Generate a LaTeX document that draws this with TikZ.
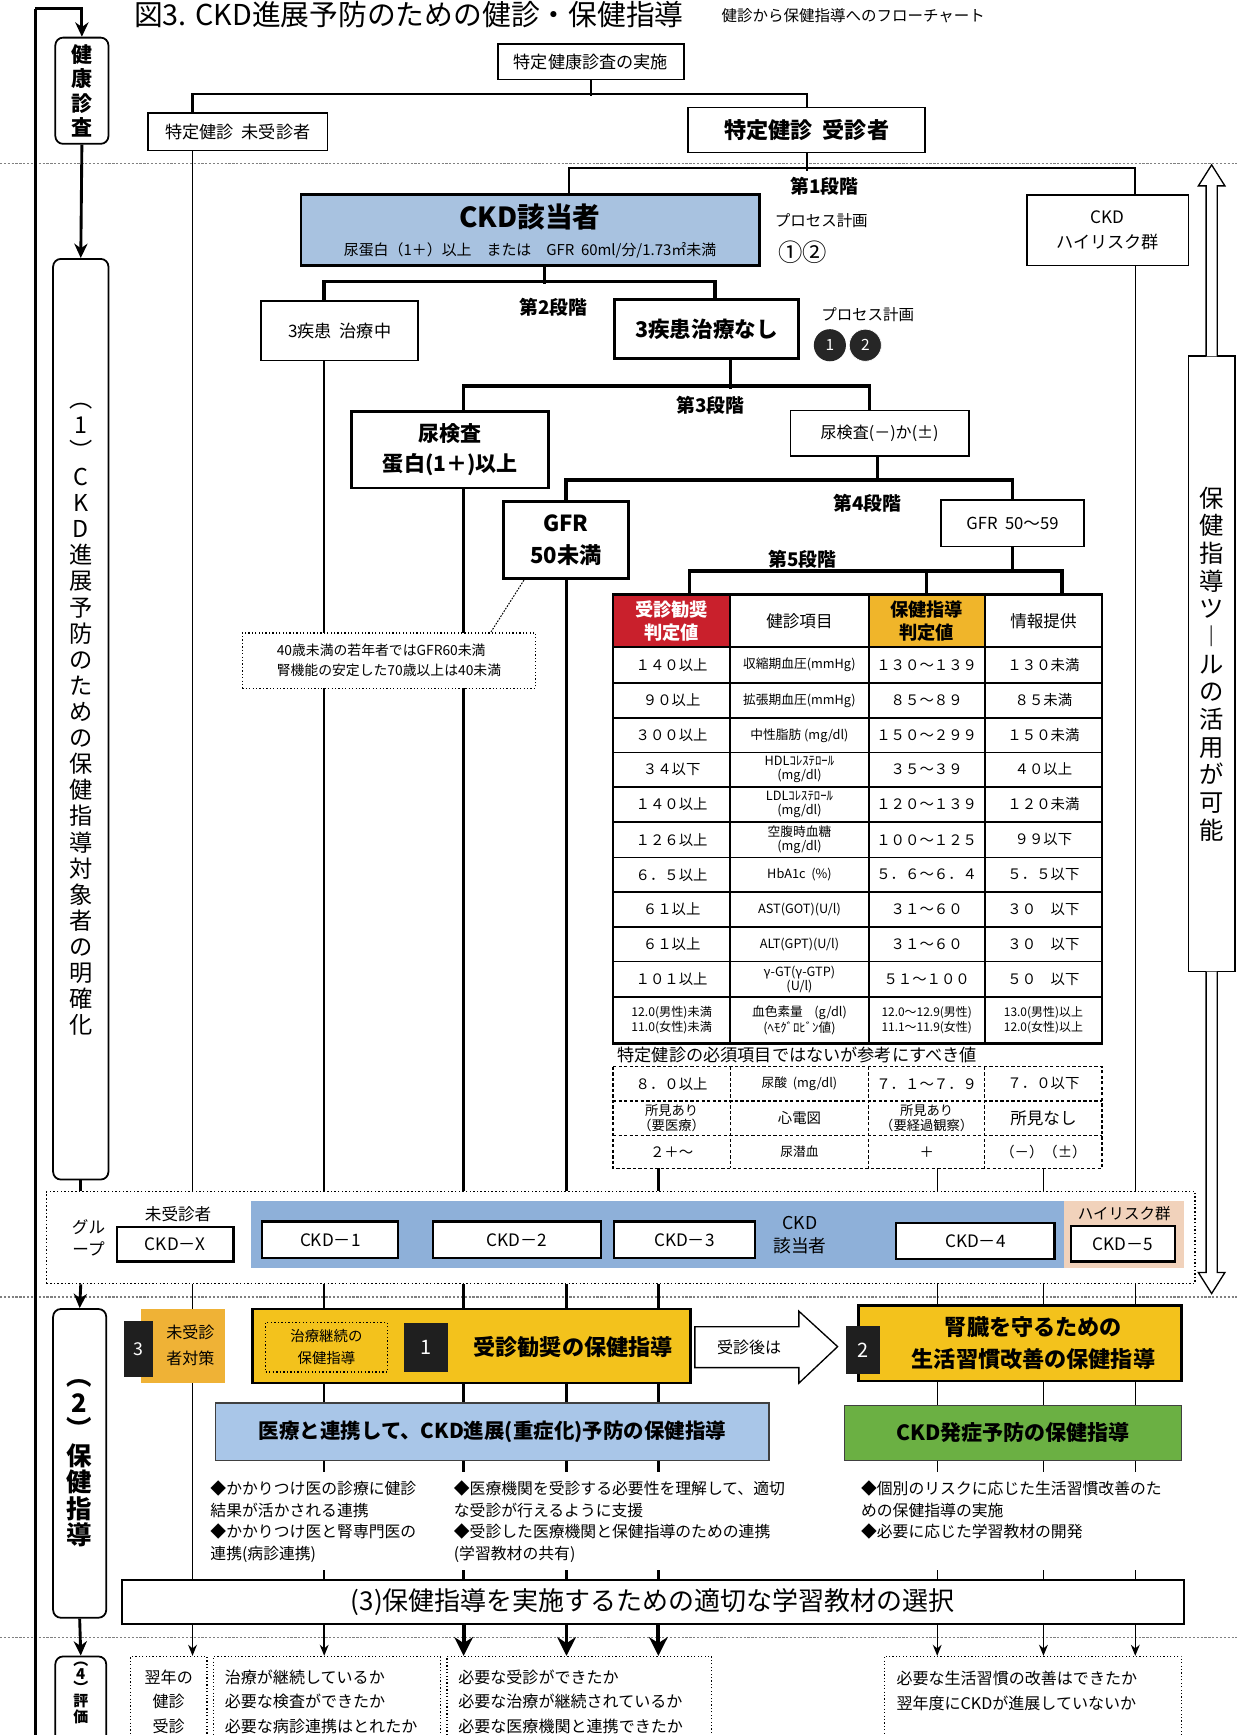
\documentclass[tikz,border=0pt]{standalone}
\usepackage{fontspec}
\setmainfont{Noto Sans CJK JP}
\usetikzlibrary{arrows.meta}
\newcommand\fz[2]{\fontsize{#1pt}{#2pt}\selectfont}
\definecolor{ckdblue}{HTML}{A8C2E0}
\definecolor{grpblue}{HTML}{8EB0D9}
\definecolor{lblue}{HTML}{A9C6E8}
\definecolor{jred}{HTML}{C9202C}
\definecolor{jyel}{HTML}{F0B52A}
\definecolor{byel}{HTML}{F3C21C}
\definecolor{oyel}{HTML}{EFB236}
\definecolor{jgreen}{HTML}{6BB043}
\definecolor{peach}{HTML}{F1D2BB}
\definecolor{sepgray}{HTML}{808080}
% table row: name, top, bottom, four cell texts
\newcommand\trow[7]{%
  \node[lab, font=\fz{13}{14}] (#1a) at (607,{(#2+#3)/2}) {#4};
  \node[lab, font=\fz{11.5}{12.5}] (#1b) at (722.5,{(#2+#3)/2}) {#5};
  \node[lab, font=\fz{13}{14}] (#1c) at (837.5,{(#2+#3)/2}) {#6};
  \node[lab, font=\fz{13}{14}] (#1d) at (943,{(#2+#3)/2}) {#7};
}
\begin{document}
\begin{tikzpicture}[x=1pt,y=-1pt,
  lab/.style={inner sep=0pt, align=center},
  bx/.style={draw, line width=1.4pt, fill=white, inner sep=0pt, align=center},
  tbx/.style={bx, line width=2.6pt},
  ckdbx/.style={bx, line width=2pt, font=\fz{15.5}{16}},
  wh/.style 2 args={minimum width=#1pt, minimum height=#2pt},
  ln/.style={line width=1.3pt},
  mln/.style={line width=1.9pt},
  tln/.style={line width=3.2pt},
  sepl/.style={sepgray, line width=1.2pt, dash pattern=on 2pt off 1.5pt},
  dotbx/.style={draw, line width=1.1pt, dotted, fill=white, inner sep=0pt},
  vbox/.style={draw, line width=1.6pt, rounded corners=7pt, fill=white, inner sep=0pt, align=center},
  larrow/.style={line width=2.6pt, -{Stealth[length=13pt,width=12pt]}},
  tarrow/.style={line width=1.3pt, -{Stealth[length=10pt,width=8pt]}},
  barrow/.style={line width=3.4pt, -{Stealth[length=17pt,width=17pt]}},
  harrow/.style={line width=1.2pt, fill=white},
  blk/.style={fill=black!88, text=white, inner sep=0pt},
  hcell/.style={draw, line width=2pt, inner sep=0pt, align=center},
  stage/.style={inner sep=0pt, font=\fz{17}{17}\bfseries},
  txtblk/.style={inner sep=0pt, align=left, anchor=north west, font=\fz{14.3}{19.5}},
]
\useasboundingbox (0,0) rectangle (1118,1568);
\clip (0,0) rectangle (1118,1568);
\fill[white] (0,0) rectangle (1118,1568);

% x positions of the long verticals
\coordinate (xa) at (174,0);
\coordinate (xb) at (293,0);
\coordinate (xc) at (419,0);
\coordinate (xd) at (512,0);
\coordinate (xe) at (595,0);
\coordinate (xf) at (847,0);
\coordinate (xg) at (943,0);
\coordinate (xh) at (1026,0);
\coordinate (xk) at (514,0);
\coordinate (xs2) at (492,0);
\coordinate (xs2r) at (646,0);
\coordinate (xs3) at (660,0);
\coordinate (xs3r) at (786,0);
\coordinate (xs4) at (793,0);
\coordinate (x5a) at (623,0);
\coordinate (x5d) at (960,0);
\coordinate (dtb) at (0,1056);
\coordinate (ltop) at (32,8);
\coordinate (lbot) at (32,1600);

% title
\node[lab, anchor=west, font=\fz{26}{27}] (title) at (121,13) {図3. CKD進展予防のための健診・保健指導};
\node[lab, anchor=west, font=\fz{14}{14}] (subtitle) at (652,14) {健診から保健指導へのフローチャート};

% separators
\draw[sepl] (0,148) -- (1118,148);
\draw[sepl] (0,1172) -- (1118,1172);
\draw[sepl] (0,1480) -- (1118,1480);

% ---------- group box (area) ----------
\node[fill=grpblue, wh={735}{61}, inner sep=0pt] (grpb) at (594.5,1115.5) {};
\node[fill=peach, wh={108}{61}, inner sep=0pt] (grpp) at (1016,1115.5) {};
\node[draw, dotted, line width=1.3pt, wh={1038}{83}, inner sep=0pt] (grp) at (561,1118.5) {};

% ---------- top section ----------
\node[bx, wh={168}{32}, font=\fz{15.5}{18}] (jisshi) at (534,56) {特定健康診査の実施};
\node[bx, wh={162}{34}, font=\fz{15.5}{18}] (mij) at (215,119) {特定健診\ \ 未受診者};
\node[bx, wh={214}{41}, font=\fz{20}{22}\bfseries] (jus) at (729,117.5) {特定健診\ \ 受診者};
\draw[mln] (jisshi.south) -- ++(0,14);
\draw[mln] (mij.north -| xa) -- ++(0,-16) -| (jus.north);

% stage 1
\node[tbx, fill=ckdblue, wh={414}{64}] (ckd) at (479,208) {};
\node[lab, font=\fz{25}{25}\bfseries] (ckdt1) at (479,196) {CKD該当者};
\node[lab, font=\fz{13.5}{14}] (ckdt2) at (479,226) {尿蛋白（1＋）以上　または　GFR\ \ 60ml/分/1.73㎡未満};
\node[bx, wh={146}{64}, font=\fz{15.5}{22}] (hr) at (1001,208) {CKD\\ハイリスク群};
\draw[mln] (jus.south) -- ++(0,15.5);
\draw[mln] (ckd.north -| xk) -- ++(0,-23) -| (hr.north -| xh);
\node[stage] (st1) at (745,168) {第1段階};
\node[lab, anchor=west, font=\fz{14}{14}] (pk1) at (700,199) {プロセス計画};
\node[lab, anchor=west, font=\fz{22}{22}] (pk1n) at (703,228) {①②};

% stage 2
\node[bx, wh={142}{54}, font=\fz{15.5}{18}] (chu) at (307,299) {3疾患\ \ 治療中};
\node[tbx, wh={167}{53}, font=\fz{19.5}{20}\bfseries] (nashi) at (638.5,297.5) {3疾患治療なし};
\draw[tln] (ckd.south -| xs2) -- ++(0,15);
\draw[tln] (chu.north -| xb) -- ++(0,-17) -| (nashi.north -| xs2r);
\node[stage] (st2) at (500,278) {第2段階};
\node[lab, anchor=west, font=\fz{14}{14}] (pk2) at (742,284) {プロセス計画};
\node[circle, fill=black!85, minimum size=29pt, inner sep=0pt, text=white, font=\fz{14}{14}] (c1) at (750,312) {1};
\node[circle, fill=black!85, draw=white, line width=0.6pt, minimum size=29pt, inner sep=0pt, text=white, font=\fz{14}{14}] (c2) at (782,312) {2};

% stage 3
\node[tbx, wh={178}{69}, font=\fz{19}{27}\bfseries] (nyo) at (407,406.5) {尿検査\\蛋白(1＋)以上};
\node[bx, wh={161}{41}, font=\fz{14.5}{16}] (nyom) at (795,391.5) {尿検査(－)か(±)};
\draw[tln] (nashi.south -| xs3) -- ++(0,26);
\draw[tln] (nyo.north -| xc) -- ++(0,-22) -| (nyom.north -| xs3r);
\node[stage] (st3) at (642,366) {第3段階};

% stage 4
\node[tbx, wh={113}{70}, font=\fz{20}{29}\bfseries] (gfr) at (511.5,488) {GFR\\50未満};
\node[bx, wh={129}{42}, font=\fz{15}{16}] (gfr2) at (915,473) {GFR\ \ 50～59};
\draw[tln] (nyom.south -| xs4) -- ++(0,23);
\draw[tln] (gfr.north) -- ++(0,-18) -| (gfr2.north);
\node[stage] (st4) at (784,455) {第4段階};

% stage 5 : table
\node[hcell, fill=jred, text=white, wh={106}{48}, font=\fz{16.5}{21}\bfseries] (h1) at (607,561) {受診勧奨\\判定値};
\node[hcell, fill=white, wh={125}{48}, font=\fz{15}{15}] (h2) at (722.5,561) {健診項目};
\node[hcell, fill=jyel, wh={105}{48}, font=\fz{16.5}{21}\bfseries] (h3) at (837.5,561) {保健指導\\判定値};
\node[hcell, fill=white, wh={106}{48}, font=\fz{15}{15}] (h4) at (943,561) {情報提供};
\draw[tln] (gfr2.south) -- ++(0,23);
\draw[tln] (h1.north -| x5a) -- ++(0,-20) -| (h4.north -| x5d);
\draw[tln] (h3.north) -- ++(0,-20);
\node[stage] (st5) at (725,505) {第5段階};

\foreach \yy in {617,649,680,711,743,775,806,838,869,901}{
  \draw[line width=1.6pt] (554,\yy) -- (996,\yy);
}
\foreach \xx in {660,785,890}{
  \draw[line width=2pt] (\xx,585) -- (\xx,943);
}
\draw[line width=2.4pt] (554,537) rectangle (996,943);

\trow{r1}{585}{617}{１４０以上}{収縮期血圧(mmHg)}{１３０～１３９}{１３０未満}
\trow{r2}{617}{649}{９０以上}{拡張期血圧(mmHg)}{８５～８９}{８５未満}
\trow{r3}{649}{680}{３００以上}{中性脂肪\ (mg/dl)}{１５０～２９９}{１５０未満}
\trow{r4}{680}{711}{３４以下}{HDLｺﾚｽﾃﾛｰﾙ\\(mg/dl)}{３５～３９}{４０以上}
\trow{r5}{711}{743}{１４０以上}{LDLｺﾚｽﾃﾛｰﾙ\\(mg/dl)}{１２０～１３９}{１２０未満}
\trow{r6}{743}{775}{１２６以上}{空腹時血糖\\(mg/dl)}{１００～１２５}{９９以下}
\trow{r7}{775}{806}{６．５以上}{HbA1c\ \ (\%)}{５．６～６．４}{５．５以下}
\trow{r8}{806}{838}{６１以上}{AST(GOT)(U/l)}{３１～６０}{３０　以下}
\trow{r9}{838}{869}{６１以上}{ALT(GPT)(U/l)}{３１～６０}{３０　以下}
\trow{r10}{869}{901}{１０１以上}{γ-GT(γ-GTP)\\(U/l)}{５１～１００}{５０　以下}
\node[lab, font=\fz{11}{14}] (r11a) at (607,922) {12.0(男性)未満\\11.0(女性)未満};
\node[lab, font=\fz{11.5}{14}] (r11b) at (722.5,922) {血色素量\ \ \ \ (g/dl)\\(ﾍﾓｸﾞﾛﾋﾞﾝ値)};
\node[lab, font=\fz{10.8}{14}] (r11c) at (837.5,922) {12.0～12.9(男性)\\11.1～11.9(女性)};
\node[lab, font=\fz{10.8}{14}] (r11d) at (943,922) {13.0(男性)以上\\12.0(女性)以上};

% reference values (dashed table)
\node[lab, anchor=west, font=\fz{15.5}{16}] (reft) at (558,953) {特定健診の必須項目ではないが参考にすべき値};
\draw[line width=1.2pt, dash pattern=on 3pt off 2pt] (554,964) rectangle (996,1056);
\foreach \yy in {995,1026}{
  \draw[line width=1.2pt, dash pattern=on 3pt off 2pt] (554,\yy) -- (996,\yy);
}
\foreach \xx in {660,785,890}{
  \draw[line width=1.2pt, dash pattern=on 3pt off 2pt] (\xx,964) -- (\xx,1056);
}
\trow{d1}{964}{995}{８．０以上}{尿酸\ \ (mg/dl)}{７．１～７．９}{７．０以下}
\node[lab, font=\fz{12}{13.5}] (d2a) at (607,1010.5) {所見あり\\（要医療）};
\node[lab, font=\fz{13}{14}] (d2b) at (722.5,1010.5) {心電図};
\node[lab, font=\fz{12}{13.5}] (d2c) at (837.5,1010.5) {所見あり\\（要経過観察）};
\node[lab, font=\fz{15}{15}] (d2d) at (943,1010.5) {所見なし};
\trow{d3}{1026}{1056}{２＋～}{尿潜血}{＋}{（－）（±）}

% long verticals to the group box
\draw[ln] (mij.south -| xa) -- (grp.north -| xa);
\draw[ln] (chu.south -| xb) -- (grp.north -| xb);
\draw[tln] (nyo.south -| xc) -- (grp.north -| xc);
\draw[tln] (gfr.south -| xd) -- (grp.north -| xd);
\draw[tln] (dtb -| xe) -- (grp.north -| xe);
\draw[ln] (dtb -| xf) -- (grp.north -| xf);
\draw[ln] (dtb -| xg) -- (grp.north -| xg);
\draw[ln] (hr.south -| xh) -- (grp.north -| xh);

% note box
\node[dotbx, wh={265}{50}, align=left, font=\fz{12.5}{18}] (note) at (351.5,597) {40歳未満の若年者ではGFR60未満\\腎機能の安定した70歳以上は40未満};
\draw[line width=0.9pt, dash pattern=on 1.5pt off 1.2pt] ([xshift=-38pt]gfr.south) -- ([xshift=92pt]note.north);

% group contents
\node[lab, font=\fz{15}{20}] (grpl) at (80,1119) {グル\\ープ};
\node[lab, font=\fz{15}{15}] (mjl) at (161,1097) {未受診者};
\node[ckdbx, wh={105}{31}] (ckdx) at (158.5,1124.5) {CKD－X};
\node[ckdbx, wh={123}{33}] (ckd1) at (298.5,1120.5) {CKD－1};
\node[ckdbx, wh={152}{33}] (ckd2) at (467,1120.5) {CKD－2};
\node[ckdbx, wh={127}{33}] (ckd3) at (618.5,1120.5) {CKD－3};
\node[lab, font=\fz{16}{21}] (ckdg) at (723,1116) {CKD\\該当者};
\node[ckdbx, wh={143}{33}] (ckd4) at (881.5,1121.5) {CKD－4};
\node[lab, font=\fz{14}{14}] (hrl) at (1016,1097) {ハイリスク群};
\node[ckdbx, wh={94}{32}] (ckd5) at (1015,1124) {CKD－5};

% ---------- section 2 ----------
\node[fill=oyel, wh={76}{67}, inner sep=0pt] (mtai) at (165,1216.5) {};
\node[lab, font=\fz{14.5}{23}] (mtait) at (172,1216) {未受診\\者対策};
\node[blk, wh={26}{50}, font=\fz{16}{16}] (b3) at (125,1219) {3};
\node[draw, line width=2.4pt, fill=byel, wh={396}{67}, inner sep=0pt] (yel1) at (426,1216.5) {};
\node[draw, dotted, line width=1.2pt, wh={110}{45}, inner sep=0pt, align=center, font=\fz{13}{20}] (tcont) at (295,1217.5) {治療継続の\\保健指導};
\node[blk, wh={40}{44}, font=\fz{18}{18}] (b1) at (385,1218) {1};
\node[lab, font=\fz{20}{20}\bfseries] (yel1t) at (518,1217) {受診勧奨の保健指導};
\draw[harrow] (628,1199) -- (722,1199) -- (722,1185) -- (757,1217) -- (722,1250) -- (722,1236) -- (628,1236) -- cycle;
\node[lab, font=\fz{14.5}{15}] (after) at (677,1218) {受診後は};
\node[draw, line width=2.4pt, fill=byel, wh={292}{68}, inner sep=0pt] (yel2) at (922,1214) {};
\node[lab, font=\fz{20}{29}\bfseries] (yel2t) at (934,1214) {腎臓を守るための\\生活習慣改善の保健指導};
\node[blk, wh={30}{44}, font=\fz{18}{18}] (b2) at (780,1220) {2};

\draw[ln] (grp.south -| xa) -- (mtai.north -| xa);
\draw[ln] (grp.south -| xb) -- (yel1.north -| xb);
\draw[tln] (grp.south -| xc) -- (yel1.north -| xc);
\draw[tln] (grp.south -| xd) -- (yel1.north -| xd);
\draw[tln] (grp.south -| xe) -- (yel1.north -| xe);
\draw[ln] (grp.south -| xf) -- (yel2.north -| xf);
\draw[ln] (grp.south -| xg) -- (yel2.north -| xg);
\draw[ln] (grp.south -| xh) -- (yel2.north -| xh);

\node[draw=black!75, line width=1.3pt, fill=lblue, wh={500}{52}, inner sep=0pt, font=\fz{18.5}{19}\bfseries] (blue2) at (445,1294) {医療と連携して、CKD進展(重症化)予防の保健指導};
\node[draw=black!75, line width=1.3pt, fill=jgreen, wh={305}{50}, inner sep=0pt, font=\fz{19}{19}\bfseries] (green) at (915.5,1295) {CKD発症予防の保健指導};

\draw[ln] (yel1.south -| xb) -- (blue2.north -| xb);
\draw[tln] (yel1.south -| xc) -- (blue2.north -| xc);
\draw[tln] (yel1.south -| xd) -- (blue2.north -| xd);
\draw[tln] (yel1.south -| xe) -- (blue2.north -| xe);
\draw[ln] (yel2.south -| xf) -- (green.north -| xf);
\draw[ln] (yel2.south -| xg) -- (green.north -| xg);
\draw[ln] (yel2.south -| xh) -- (green.north -| xh);

\node[txtblk] (ta) at (190,1338) {◆かかりつけ医の診療に健診\\結果が活かされる連携\\◆かかりつけ医と腎専門医の\\連携(病診連携)};
\node[txtblk] (tb) at (410,1338) {◆医療機関を受診する必要性を理解して、適切\\な受診が行えるように支援\\◆受診した医療機関と保健指導のための連携\\(学習教材の共有)};
\node[txtblk] (tc) at (778,1338) {◆個別のリスクに応じた生活習慣改善のた\\めの保健指導の実施\\◆必要に応じた学習教材の開発};

\node[draw, line width=1.6pt, fill=white, wh={960}{40}, inner sep=0pt, font=\fz{23.5}{24}] (sel) at (590,1448) {(3)保健指導を実施するための適切な学習教材の選択};

\draw[ln] (blue2.south -| xb) -- ++(0,10);
\draw[tln] (blue2.south -| xc) -- ++(0,10);
\draw[tln] (blue2.south -| xd) -- ++(0,10);
\draw[tln] (blue2.south -| xe) -- ++(0,10);
\draw[ln] (green.south -| xf) -- ++(0,10);
\draw[ln] (green.south -| xg) -- ++(0,10);
\draw[ln] (green.south -| xh) -- ++(0,10);
\draw[ln] (sel.north -| xb) -- ++(0,-8);
\draw[tln] (sel.north -| xc) -- ++(0,-8);
\draw[tln] (sel.north -| xd) -- ++(0,-8);
\draw[tln] (sel.north -| xe) -- ++(0,-8);
\draw[ln] (sel.north -| xf) -- ++(0,-8);
\draw[ln] (sel.north -| xg) -- ++(0,-8);
\draw[ln] (sel.north -| xh) -- ++(0,-8);
\draw[ln] (mtai.south -| xa) -- (sel.north -| xa);

% ---------- section 4 ----------
\node[dotbx, wh={69}{103}] (e1) at (152.5,1548.5) {};
\node[dotbx, wh={205}{103}] (e2) at (295.5,1548.5) {};
\node[dotbx, wh={239}{103}] (e3) at (523.5,1548.5) {};
\node[dotbx, wh={269}{103}] (e4) at (933.5,1548.5) {};
\node[lab, font=\fz{14.5}{22}] (e1t) at (152.5,1538) {翌年の\\健診\\受診};
\node[lab, anchor=west, align=left, font=\fz{14.5}{22}] (e2t) at (203,1538) {治療が継続しているか\\必要な検査ができたか\\必要な病診連携はとれたか};
\node[lab, anchor=west, align=left, font=\fz{14.5}{22}] (e3t) at (414,1538) {必要な受診ができたか\\必要な治療が継続されているか\\必要な医療機関と連携できたか};
\node[lab, anchor=west, align=left, font=\fz{14.5}{23}] (e4t) at (810,1528) {必要な生活習慣の改善はできたか\\翌年度にCKDが進展していないか};

\draw[tarrow] (sel.south -| xa) -- (e1.north -| xa);
\draw[tarrow] (sel.south -| xb) -- (e2.north -| xb);
\draw[barrow] (sel.south -| xc) -- (e3.north -| xc);
\draw[barrow] (sel.south -| xd) -- (e3.north -| xd);
\draw[barrow] (sel.south -| xe) -- (e3.north -| xe);
\draw[tarrow] (sel.south -| xf) -- (e4.north -| xf);
\draw[tarrow] (sel.south -| xg) -- (e4.north -| xg);
\draw[tarrow] (sel.south -| xh) -- (e4.north -| xh);

% ---------- left column ----------
\node[vbox, wh={48}{96}, font=\fz{19}{22}\bfseries] (kenshin) at (74,82) {健\\康\\診\\査};
\node[vbox, wh={50}{832}, font=\fz{21}{23.6}] (sec1) at (73,650) {︵\\1\\︶\\C\\K\\D\\進\\展\\予\\防\\の\\た\\め\\の\\保\\健\\指\\導\\対\\象\\者\\の\\明\\確\\化};
\node[vbox, wh={48}{279}, font=\fz{23}{24}\bfseries] (sec2) at (72,1322.5) {︵\\2\\︶\\保\\健\\指\\導};
\node[vbox, wh={46}{140}] (sec4) at (73,1567) {};
\node[lab, anchor=north, font=\fz{13.5}{12.4}\bfseries] (sec4t) at (73,1502) {︵\\4\\︶\\評\\価};

\draw[line width=3pt] (lbot) -- (ltop);
\draw[larrow] (ltop) -| (kenshin.north);
\draw[larrow] (kenshin.south) -- (sec1.north);
\draw[line width=2.6pt] (sec1.south) -- (sec1.south |- grp.north);
\draw[larrow] (sec1.south |- grp.south) -- (sec2.north);
\draw[larrow] (sec2.south) -- (sec4.north);

% ---------- right side ----------
\node[draw, line width=1.6pt, fill=white, wh={42}{556}, inner sep=0pt, align=center, font=\fz{22}{25}] (tool) at (1095,600) {保\\健\\指\\導\\ツ\\︱\\ル\\の\\活\\用\\が\\可\\能};
\draw[harrow] (1090,322) -- (1090,168) -- (1083,168) -- (1095,149) -- (1107,168) -- (1100,168) -- (1100,322);
\draw[harrow] (1090,878) -- (1090,1150) -- (1083,1150) -- (1095,1169) -- (1107,1150) -- (1100,1150) -- (1100,878);

\end{tikzpicture}
\end{document}
